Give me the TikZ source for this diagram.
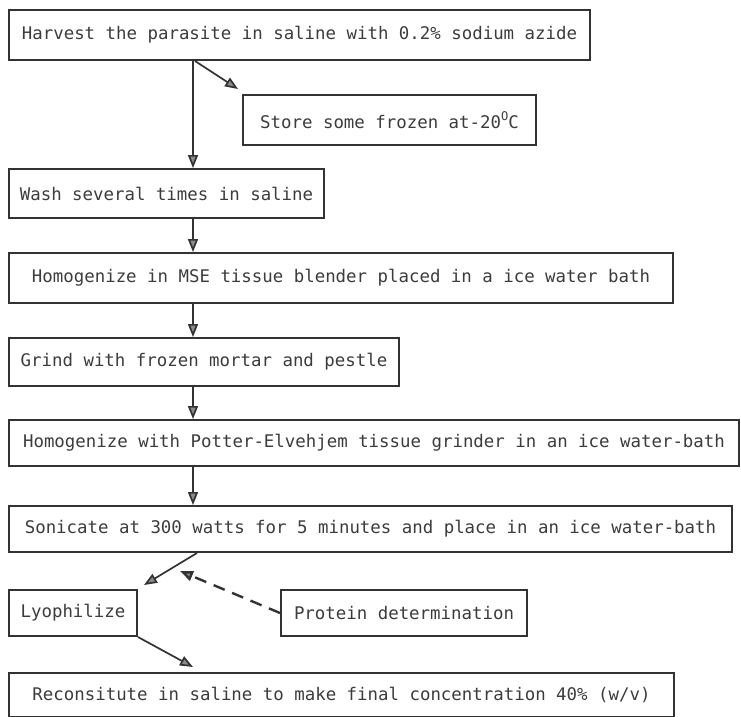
\documentclass[tikz,border=0pt]{standalone}
\usepackage{fontspec}
\setmonofont{DejaVu Sans Mono}
\usetikzlibrary{arrows.meta,calc}
\definecolor{ink}{HTML}{333333}
\definecolor{txt}{HTML}{3C3C3C}
\definecolor{tipfill}{HTML}{8A8A8A}
\begin{document}
\begin{tikzpicture}[x=1pt,y=-1pt,
  stepbox/.style={draw=ink,line width=2pt,anchor=north west,inner sep=0pt,
    font=\ttfamily\fontsize{17.4}{20}\selectfont,text=txt},
  flow/.style={draw=ink,line width=1.7pt,
    -{Triangle[length=13pt,width=10pt,fill=tipfill]}},
  dflow/.style={flow,line width=2.4pt,dash pattern=on 12pt off 8pt}]
\useasboundingbox[fill=white] (0,0) rectangle (741,716);
\node[stepbox,minimum width=581pt,minimum height=50pt] (h1) at (8,9)
  {Harvest the parasite in saline with 0.2\% sodium azide};
\node[stepbox,minimum width=293pt,minimum height=50pt] (st) at (242,94)
  {Store some frozen at-20\raisebox{0.45em}{\fontsize{12}{12}\selectfont O}C};
\node[stepbox,minimum width=315pt,minimum height=49pt] (wa) at (8,168)
  {Wash several times in saline};
\node[stepbox,minimum width=664pt,minimum height=50pt] (ms) at (8,252)
  {Homogenize in MSE tissue blender placed in a ice water bath};
\node[stepbox,minimum width=390pt,minimum height=48pt] (gr) at (8,337)
  {Grind with frozen mortar and pestle};
\node[stepbox,minimum width=730pt,minimum height=46pt] (po) at (8,419)
  {Homogenize with Potter-Elvehjem tissue grinder in an ice water-bath};
\node[stepbox,minimum width=723pt,minimum height=46pt] (so) at (8,505)
  {Sonicate at 300 watts for 5 minutes and place in an ice water-bath};
\node[stepbox,minimum width=128pt,minimum height=46pt] (ly) at (8,589)
  {Lyophilize};
\node[stepbox,minimum width=246pt,minimum height=46pt] (pr) at (280,589)
  {Protein determination};
\node[stepbox,minimum width=665pt,minimum height=44pt] (re) at (8,672)
  {Reconsitute in saline to make final concentration 40\% (w/v)};
\draw[flow] ([xshift=185pt]h1.south west) -- ([xshift=185pt]wa.north west);
\draw[flow] ([xshift=187pt]h1.south west) -- ([xshift=-4pt,yshift=5pt]st.north west);
\draw[flow] ([xshift=185pt]wa.south west) -- ([xshift=185pt]ms.north west);
\draw[flow] ([xshift=185pt]ms.south west) -- ([xshift=185pt]gr.north west);
\draw[flow] ([xshift=185pt]gr.south west) -- ([xshift=185pt]po.north west);
\draw[flow] ([xshift=185pt]po.south west) -- ([xshift=185pt]so.north west);
\draw[flow] ([xshift=189pt]so.south west) -- ([xshift=6pt,yshift=4pt]ly.north east);
\draw[dflow] (pr.west) -- ([xshift=172pt,yshift=-18pt]so.south west);
\draw[flow] (ly.south east) -- ([xshift=185pt,yshift=5pt]re.north west);
\end{tikzpicture}
\end{document}
